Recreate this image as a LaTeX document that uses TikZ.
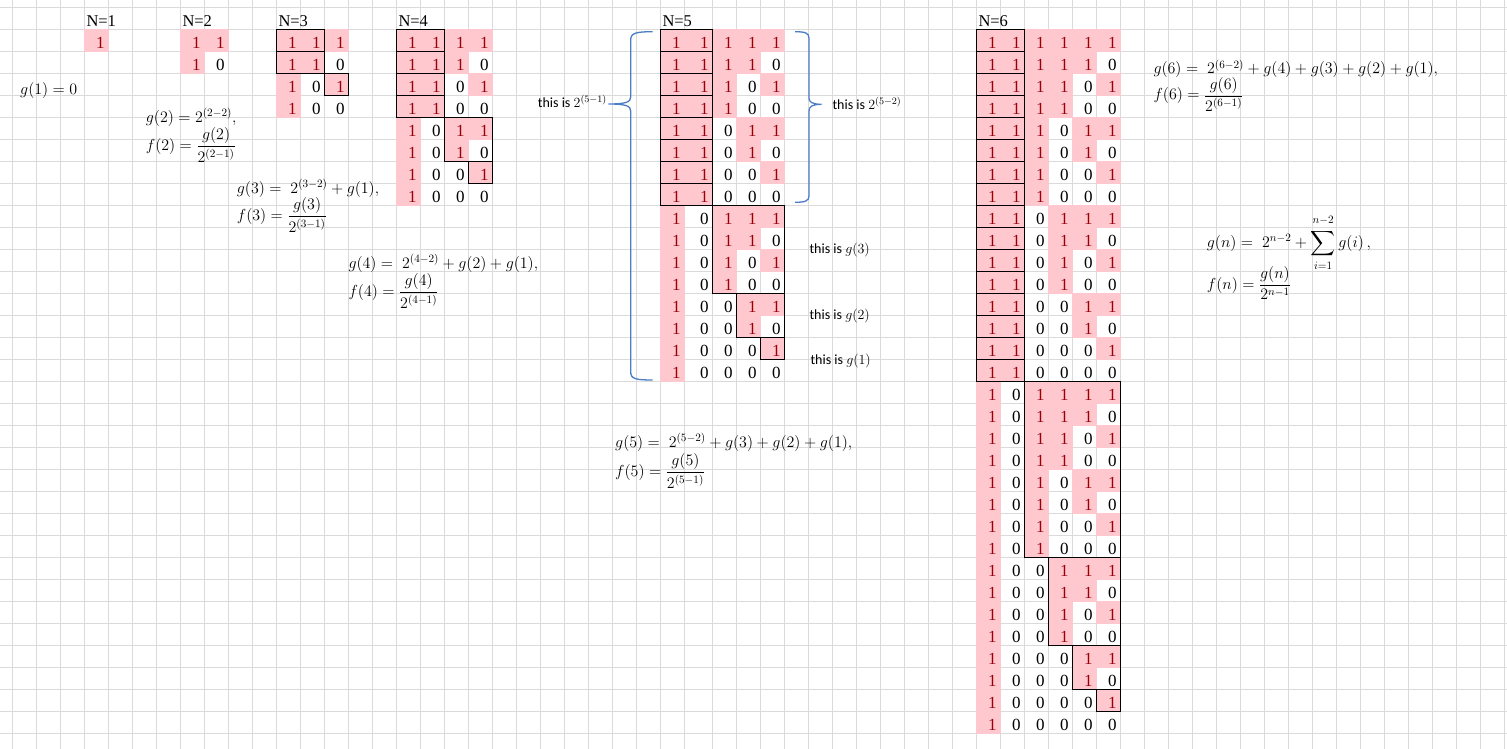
\RequirePackage{fix-cm}
\documentclass[tikz,border=0pt]{standalone}
\usepackage{amsmath}
\usepackage{fontspec}
\setmainfont{Liberation Serif}
\newfontfamily\labfont{Carlito}
\definecolor{gridc}{HTML}{DADADA}
\definecolor{pinkc}{HTML}{FFC7CE}
\definecolor{redtxt}{HTML}{9C0006}
\definecolor{bracec}{HTML}{4A7CC8}
\tikzset{
  gridline/.style={draw=gridc, line width=1pt},
  cellnum/.style={inner sep=0pt, anchor=base east, font=\fontsize{17}{20}\selectfont},
  header/.style={inner sep=0pt, anchor=base west, font=\fontsize{16.5}{20}\selectfont},
  formula/.style={inner sep=0pt, anchor=base west, font=\fontsize{16}{19}\selectfont},
  note/.style={inner sep=0pt, anchor=base west, font=\labfont\fontsize{14}{17}\selectfont},
  boxline/.style={draw=black, line width=1.3pt},
  bracepath/.style={draw=bracec, line width=1.3pt},
}
\newcommand\drawbox[4]{%
  \pgfmathsetmacro\bxl{12.3+24*(#1)+4*((#1)>28)}%
  \pgfmathsetmacro\bxr{12.3+24*(#2+1)+4*((#2+1)>28)}%
  \pgfmathsetmacro\byt{7.3+22*(#3)}%
  \pgfmathsetmacro\byb{7.3+22*(#4+1)}%
  \draw[boxline] (\bxl,\byt) rectangle (\bxr,\byb);%
}
\newcommand\drawblock[3]{%
  \foreach \i in {1,...,#3}{%
    \foreach \j in {1,...,#1}{%
      \pgfmathtruncatemacro\cc{#2+\j-1}%
      \pgfmathtruncatemacro\v{mod(floor((2^(#1)-\i)/2^(#1-\j)),2)}%
      \pgfmathsetmacro\xl{12.3+24*\cc+4*(\cc>28)}%
      \pgfmathsetmacro\xr{12.3+24*(\cc+1)+4*((\cc+1)>28)}%
      \pgfmathsetmacro\yt{7.3+22*\i}%
      \ifnum\v=1
        \fill[pinkc] (\xl-0.6,\yt-0.6) rectangle (\xr+0.6,\yt+22.6);
        \node[cellnum,text=redtxt] (n#1-\i-\j) at (\xr-3.5,\yt+19.5) {1};
      \else
        \node[cellnum] (n#1-\i-\j) at (\xr-3.5,\yt+19.5) {0};
      \fi
    }%
  }%
}
\begin{document}
\begin{tikzpicture}[x=1pt,y=-1pt]
\useasboundingbox (0,0) rectangle (1507,749);
\fill[white] (0,0) rectangle (1507,749);
% grid
\foreach \k in {0,...,62}{%
  \pgfmathsetmacro\xx{12.3+24*\k+4*(\k>28)}%
  \draw[gridline] (\xx,0) -- (\xx,749);
}
\foreach \r in {0,...,33}{%
  \pgfmathsetmacro\yy{7.3+22*\r}%
  \draw[gridline] (0,\yy) -- (1507,\yy);
}
% headers
\node[header] (h1) at (86.3,26.7) {N=1};
\node[header] (h2) at (182.3,26.7) {N=2};
\node[header] (h3) at (278.3,26.7) {N=3};
\node[header] (h4) at (398.3,26.7) {N=4};
\node[header] (h5) at (662.3,26.7) {N=5};
\node[header] (h6) at (978.3,26.7) {N=6};
% tables
\drawblock{1}{3}{1}
\drawblock{2}{7}{2}
\drawblock{3}{11}{4}
\drawblock{4}{16}{8}
\drawblock{5}{27}{16}
\drawblock{6}{40}{32}
% boxes N=3
\drawbox{11}{12}{1}{1}
\drawbox{11}{12}{2}{2}
\drawbox{13}{13}{3}{3}
% boxes N=4
\foreach \r in {1,...,4}{\drawbox{16}{17}{\r}{\r}}
\drawbox{18}{19}{5}{6}
\drawbox{19}{19}{7}{7}
% boxes N=5
\foreach \r in {1,...,8}{\drawbox{27}{28}{\r}{\r}}
\drawbox{29}{31}{9}{12}
\drawbox{30}{31}{13}{14}
\drawbox{31}{31}{15}{15}
% boxes N=6
\foreach \r in {1,...,16}{\drawbox{40}{41}{\r}{\r}}
\drawbox{42}{45}{17}{24}
\drawbox{43}{45}{25}{28}
\drawbox{44}{45}{29}{30}
\drawbox{45}{45}{31}{31}
% braces
\draw[bracepath] (652.7,31.7) .. controls (636,31.7) and (630.7,33) .. (630.7,40)
  -- (630.7,97) .. controls (630.7,102) and (626,104) .. (608.3,104)
  .. controls (626,104) and (630.7,106) .. (630.7,111)
  -- (630.7,372) .. controls (630.7,379) and (636,380) .. (652.7,380);
\draw[bracepath] (795,31.7) .. controls (805,31.7) and (809,33) .. (809,38)
  -- (809,98) .. controls (809,102) and (812,104.3) .. (821.7,104.3)
  .. controls (812,104.3) and (809,106.5) .. (809,111)
  -- (809,196) .. controls (809,201) and (805,202.3) .. (795,202.3);
% notes
\node[note] (t51) at (537.7,108) {this is $2^{(5-1)}$};
\node[note] (t52) at (832.3,110) {this is $2^{(5-2)}$};
\node[note] (tg3) at (809.3,253) {this is $g(3)$};
\node[note] (tg2) at (809.3,319) {this is $g(2)$};
\node[note] (tg1) at (810.3,364) {this is $g(1)$};
% formulas
\node[formula] (g1) at (20,95) {$g(1) = 0$};
\node[formula] (g2) at (145.7,122.3) {$g(2) = 2^{(2-2)},$};
\node[formula] (f2) at (145.7,150.7) {$f(2) = \dfrac{g(2)}{2^{(2-1)}}$};
\node[formula] (g3) at (236.7,193) {$g(3) = \; 2^{(3-2)} + g(1),$};
\node[formula] (f3) at (236.7,220.7) {$f(3) = \dfrac{g(3)}{2^{(3-1)}}$};
\node[formula] (g4) at (348.3,268) {$g(4) = \; 2^{(4-2)} + g(2) + g(1),$};
\node[formula] (f4) at (348.3,296.7) {$f(4) = \dfrac{g(4)}{2^{(4-1)}}$};
\node[formula] (g5) at (615,447.3) {$g(5) = \; 2^{(5-2)} + g(3) + g(2) + g(1),$};
\node[formula] (f5) at (615,476.7) {$f(5) = \dfrac{g(5)}{2^{(5-1)}}$};
\node[formula] (g6) at (1153.3,74) {$g(6) = \; 2^{(6-2)} + g(4) + g(3) + g(2) + g(1),$};
\node[formula] (f6) at (1153.3,100) {$f(6) = \dfrac{g(6)}{2^{(6-1)}}$};
\node[formula] (gn) at (1206.7,247.3) {$g(n) = \; 2^{n-2} + \displaystyle\sum_{\raisebox{-2pt}{$\scriptstyle i=1$}}^{\raisebox{3pt}{$\scriptstyle n-2$}} g(i)\,,$};
\node[formula] (fn) at (1206.7,289) {$f(n) = \dfrac{g(n)}{2^{n-1}}$};
\end{tikzpicture}
\end{document}
